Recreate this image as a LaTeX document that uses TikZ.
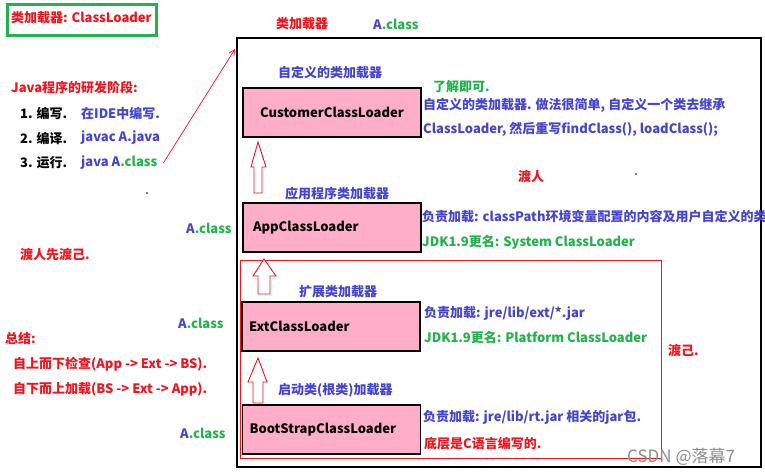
\documentclass[tikz,border=0pt]{standalone}
\usepackage{fontspec}
\setmainfont{Noto Sans CJK SC}
\usetikzlibrary{arrows.meta}

\definecolor{txtblue}{RGB}{68,68,210}
\definecolor{txtgreen}{RGB}{34,177,76}
\definecolor{txtred}{RGB}{240,20,30}
\definecolor{boxpink}{RGB}{255,174,201}

\tikzset{
  loader/.style={draw=black, line width=1.1pt, fill=boxpink, minimum width=178pt,
    minimum height=49pt, inner sep=0pt, font=\bfseries\fontsize{13}{15}\selectfont},
  loaderleft/.style={loader, text width=164pt, align=left},
  txt/.style={anchor=west, inner sep=0pt, font=\bfseries\fontsize{13}{15}\selectfont},
  hollowup/.style={draw=txtred, line width=0.9pt, fill=white, line join=miter},
}

\newcommand{\aclass}{{\color{txtblue}A}{\color{txtgreen}.class}}

\begin{document}
\begin{tikzpicture}[x=1pt, y=-1pt]
        \useasboundingbox[fill=white] (0,0) rectangle (765,475);

        % Title box
        \draw[txtgreen, line width=3pt] (7,4) rectangle (156,35);
        \node[txt, text=txtred] (title) at (11,18) {类加载器: ClassLoader};

        % Outer frame and the red group
        \draw[black, line width=1.2pt] (237,38) rectangle (761,467);
        \draw[txtred, line width=0.9pt] (240,260) rectangle (661,458);

        % Top labels
        \node[txt, text=txtred] (toplabel) at (276,24) {类加载器};
        \node[txt] (topclass) at (373,24) {\aclass};

        % Java stages
        \node[txt, text=txtred] (stages) at (11,88) {Java程序的研发阶段:};
        \node[txt] (s1) at (20,113) {1. 编写.};
        \node[txt, text=txtblue] (d1) at (81,113) {在IDE中编写.};
        \node[txt] (s2) at (20,138) {2. 编译.};
        \node[txt, text=txtblue] (d2) at (81,138) {javac A.java};
        \node[txt] (s3) at (20,163) {3. 运行.};
        \node[txt] (d3) at (81,163) {{\color{txtblue}java A}{\color{txtgreen}.class}};

        % Arrow to the frame
        \coordinate (frametip) at (235,49);
        \draw[txtred, line width=0.7pt, -{Straight Barb[length=6pt, width=6pt]}]
              ([xshift=6pt]d3.east) -- (frametip);

        % Left notes
        \node[txt] (cls1) at (186,228) {\aclass};
        \node[txt, text=txtred] (ferry) at (20,255) {渡人先渡己.};
        \node[txt] (cls2) at (178,323) {\aclass};
        \node[txt, text=txtred] (summary) at (5,339) {总结:};
        \node[txt, text=txtred] (sum1) at (13,364) {自上而下检查(App -> Ext -> BS).};
        \node[txt, text=txtred] (sum2) at (13,389) {自下而上加载(BS -> Ext -> App).};
        \node[txt] (cls3) at (180,433) {\aclass};

        % Loaders
        \node[loader] (custom) at (332,112.5) {CustomerClassLoader};
        \node[loaderleft] (app) at (332,227.5) {\hspace{3pt}AppClassLoader};
        \node[loaderleft] (ext) at (331,326.5) {ExtClassLoader};
        \node[loaderleft] (boot) at (331.5,429.5) {BootStrapClassLoader};

        % Loader titles
        \node[txt, text=txtblue] (customtitle) at (278,73) {自定义的类加载器};
        \node[txt, text=txtblue] (apptitle) at (285,194) {应用程序类加载器};
        \node[txt, text=txtblue] (exttitle) at (299,292) {扩展类加载器};
        \node[txt, text=txtblue] (boottitle) at (278,390) {启动类(根类)加载器};

        % Hollow arrows up
        \draw[hollowup] (258,142) -- (266,167) -- (262,167) -- (262,193) -- (254,193)
              -- (254,167) -- (251,167) -- cycle;
        \draw[hollowup] (264,259) -- (276,276) -- (270,276) -- (270,294) -- (258,294)
              -- (258,276) -- (253,276) -- cycle;
        \draw[hollowup] (258,358) -- (267,382) -- (263,382) -- (263,403) -- (253,403)
              -- (253,382) -- (248,382) -- cycle;

        % Notes right of the loaders
        \node[txt, text=txtgreen] (know) at (433,87) {了解即可.};
        \node[txt, text=txtblue] (c1) at (423,105) {自定义的类加载器. 做法很简单, 自定义一个类去继承};
        \node[txt, text=txtblue] (c2) at (423,129) {ClassLoader, 然后重写findClass(), loadClass();};
        \node[txt, text=txtred] (others) at (518,176) {渡人};
        \node[txt, text=txtblue] (a1) at (422,217) {负责加载: classPath环境变量配置的内容及用户自定义的类};
        \node[txt, text=txtgreen] (a2) at (422,242) {JDK1.9更名: System ClassLoader};
        \node[txt, text=txtblue] (e1) at (424,313) {负责加载: jre/lib/ext/*.jar};
        \node[txt, text=txtgreen] (e2) at (424,338) {JDK1.9更名: Platform ClassLoader};
        \node[txt, text=txtred] (self) at (668,350) {渡己.};
        \node[txt, text=txtblue] (b1) at (423,417) {负责加载: jre/lib/rt.jar 相关的jar包.};
        \node[txt, text=txtred] (b2) at (424,444) {底层是C语言编写的.};

        % Watermark and stray dots
        \node[anchor=west, inner sep=0pt, text=black!45, font=\fontsize{17}{19}\selectfont] (mark) at (627,457) {CSDN @落幕7};
        \fill (147,193) circle (0.9pt);
        \fill (636,174) circle (0.9pt);
\end{tikzpicture}
\end{document}
